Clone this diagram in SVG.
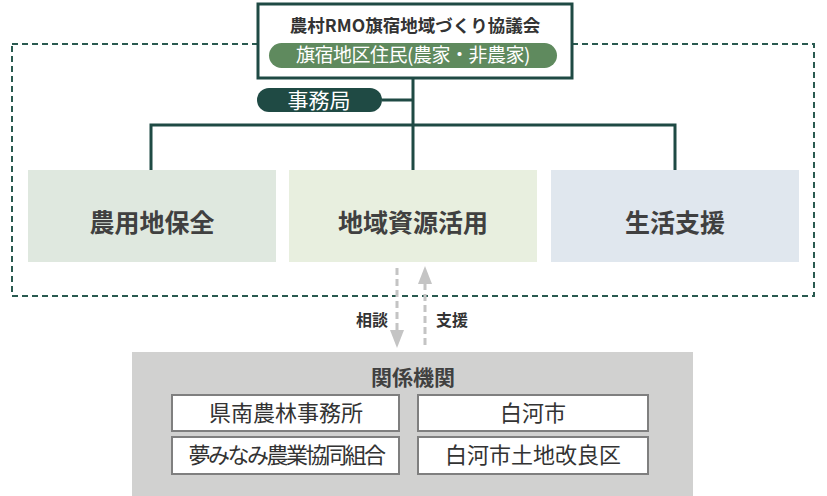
<svg xmlns="http://www.w3.org/2000/svg" width="827" height="496" viewBox="0 0 827 496">
<defs>
<style>
text{font-family:"Noto Sans CJK JP","Noto Sans",sans-serif;text-anchor:middle}
.conn{stroke:#1f4a44;stroke-width:3;fill:none}
.area{fill:none;stroke:#2a5a50;stroke-width:2;stroke-dasharray:6 4}
.gline{stroke:#c4c4c4;stroke-width:3;stroke-dasharray:7 4;fill:none}
.head{fill:#c4c4c4}
.box{stroke:none}
.bt{font-size:25px;font-weight:bold;fill:#404040}
.ib{fill:#fff;stroke:#7f7f7f;stroke-width:2}
.it{font-size:22px;fill:#333}
.lbl{font-size:16px;font-weight:bold;fill:#333}
</style>
</defs>
<rect class="area" x="12" y="44" width="802" height="252"/>
<g id="connectors">
<path class="conn" d="M413 78V170M151 170V125H675V170M382 100H413"/>
<path class="gline" d="M397 268V330"/>
<polygon class="head" points="390,330 404,330 397,348"/>
<path class="gline" d="M425 283V348"/>
<polygon class="head" points="418,284 432,284 425,266"/>
</g>
<g id="council">
<rect x="258" y="4" width="314" height="74" fill="#fff" stroke="#1f4a44" stroke-width="3"/>
<text x="415" y="32" font-size="17.5" font-weight="bold" fill="#333">農村RMO旗宿地域づくり協議会</text>
<rect x="269" y="43" width="288" height="25" rx="12.5" fill="#5f8a5e"/>
<text x="413" y="62" font-size="19" fill="#fff" letter-spacing="-0.5">旗宿地区住民(農家・非農家)</text>
</g>
<g id="secretariat">
<rect x="257" y="88" width="125" height="24" rx="12" fill="#1f4a44"/>
<text x="319" y="108" font-size="21" fill="#fff">事務局</text>
</g>
<g id="farmland">
<rect class="box" x="28" y="170" width="248" height="92" fill="#dfe8df"/>
<text class="bt" x="152" y="232">農用地保全</text>
</g>
<g id="resources">
<rect class="box" x="289" y="170" width="248" height="92" fill="#e8efdf"/>
<text class="bt" x="413" y="232">地域資源活用</text>
</g>
<g id="life">
<rect class="box" x="551" y="170" width="248" height="92" fill="#e0e7ee"/>
<text class="bt" x="675" y="232">生活支援</text>
</g>
<text class="lbl" x="372" y="326">相談</text>
<text class="lbl" x="452" y="326">支援</text>
<g id="agencies">
<rect x="132" y="352" width="561" height="144" fill="#d1d1d0"/>
<text x="413" y="385" font-size="21" font-weight="bold" fill="#404040">関係機関</text>
<rect class="ib" x="172" y="395" width="227" height="36"/>
<text class="it" x="286" y="421">県南農林事務所</text>
<rect class="ib" x="418" y="395" width="230" height="36"/>
<text class="it" x="533" y="421">白河市</text>
<rect class="ib" x="172" y="437" width="227" height="37"/>
<text class="it" x="286" y="463" letter-spacing="-2.5">夢みなみ農業協同組合</text>
<rect class="ib" x="418" y="437" width="230" height="37"/>
<text class="it" x="533" y="463">白河市土地改良区</text>
</g>
</svg>
